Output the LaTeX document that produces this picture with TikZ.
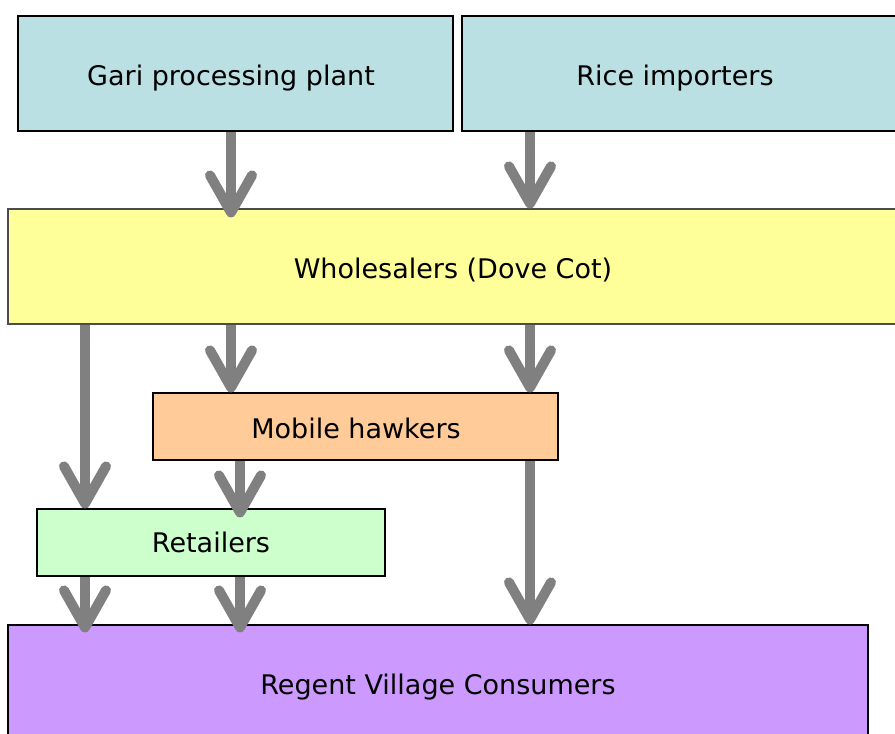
\documentclass[tikz,border=0pt]{standalone}
\usepackage{fontspec}
\setmainfont{DejaVu Sans}
\usetikzlibrary{arrows.meta,calc}
\definecolor{boxblue}{HTML}{BBE0E3}
\definecolor{boxyellow}{HTML}{FFFF99}
\definecolor{boxorange}{HTML}{FFCC99}
\definecolor{boxgreen}{HTML}{CCFFCC}
\definecolor{boxpurple}{HTML}{CC99FF}
\definecolor{flowgray}{HTML}{808080}
\tikzset{
  box/.style={draw=black, line width=1.2pt, rectangle, inner sep=0pt},
  lbl/.style={anchor=base, inner sep=0pt, font=\fontsize{27}{32}\selectfont},
  flow/.style={draw=flowgray, line width=10pt,
    -{Straight Barb[length=37pt,width=42pt,round]}},
}
\begin{document}
\begin{tikzpicture}[x=1pt,y=-1pt]
\useasboundingbox (0,0) rectangle (895,734);
\clip (0,0) rectangle (895,734);
\node[box, fill=boxblue, minimum width=435pt, minimum height=115pt] (gari) at (235.5,73.5) {};
\node[box, fill=boxblue, minimum width=460pt, minimum height=115pt] (rice) at (692,73.5) {};
\node[box, draw=black!70, fill=boxyellow, minimum width=900pt, minimum height=115pt] (whole) at (458,266.5) {};
\node[box, fill=boxorange, minimum width=405pt, minimum height=67pt] (hawk) at (355.5,426.5) {};
\node[box, fill=boxgreen, minimum width=348pt, minimum height=67pt] (retail) at (211,542.5) {};
\node[box, fill=boxpurple, minimum width=860pt, minimum height=130pt] (regent) at (438,690) {};
\node[lbl] (garit) at (231,85) {Gari processing plant};
\node[lbl] (ricet) at (675,85) {Rice importers};
\node[lbl] (wholet) at (453,278) {Wholesalers (Dove Cot)};
\node[lbl] (hawkt) at (356,438) {Mobile hawkers};
\node[lbl] (retailt) at (211,552) {Retailers};
\node[lbl] (regentt) at (438,694) {Regent Village Consumers};
\coordinate (c1) at (85,0);
\coordinate (c2) at (231,0);
\coordinate (c3) at (240,0);
\coordinate (c4) at (530,0);
\draw[flow, shorten >=-9pt] (gari.south -| c2) -- (whole.north -| c2);
\draw[flow] (rice.south -| c4) -- (whole.north -| c4);
\draw[flow] (whole.south -| c1) -- (retail.north -| c1);
\draw[flow] (whole.south -| c2) -- (hawk.north -| c2);
\draw[flow] (whole.south -| c4) -- (hawk.north -| c4);
\draw[flow, shorten >=-9pt] (hawk.south -| c3) -- (retail.north -| c3);
\draw[flow] (hawk.south -| c4) -- (regent.north -| c4);
\draw[flow, shorten >=-8pt] (retail.south -| c1) -- (regent.north -| c1);
\draw[flow, shorten >=-8pt] (retail.south -| c3) -- (regent.north -| c3);
\end{tikzpicture}
\end{document}
